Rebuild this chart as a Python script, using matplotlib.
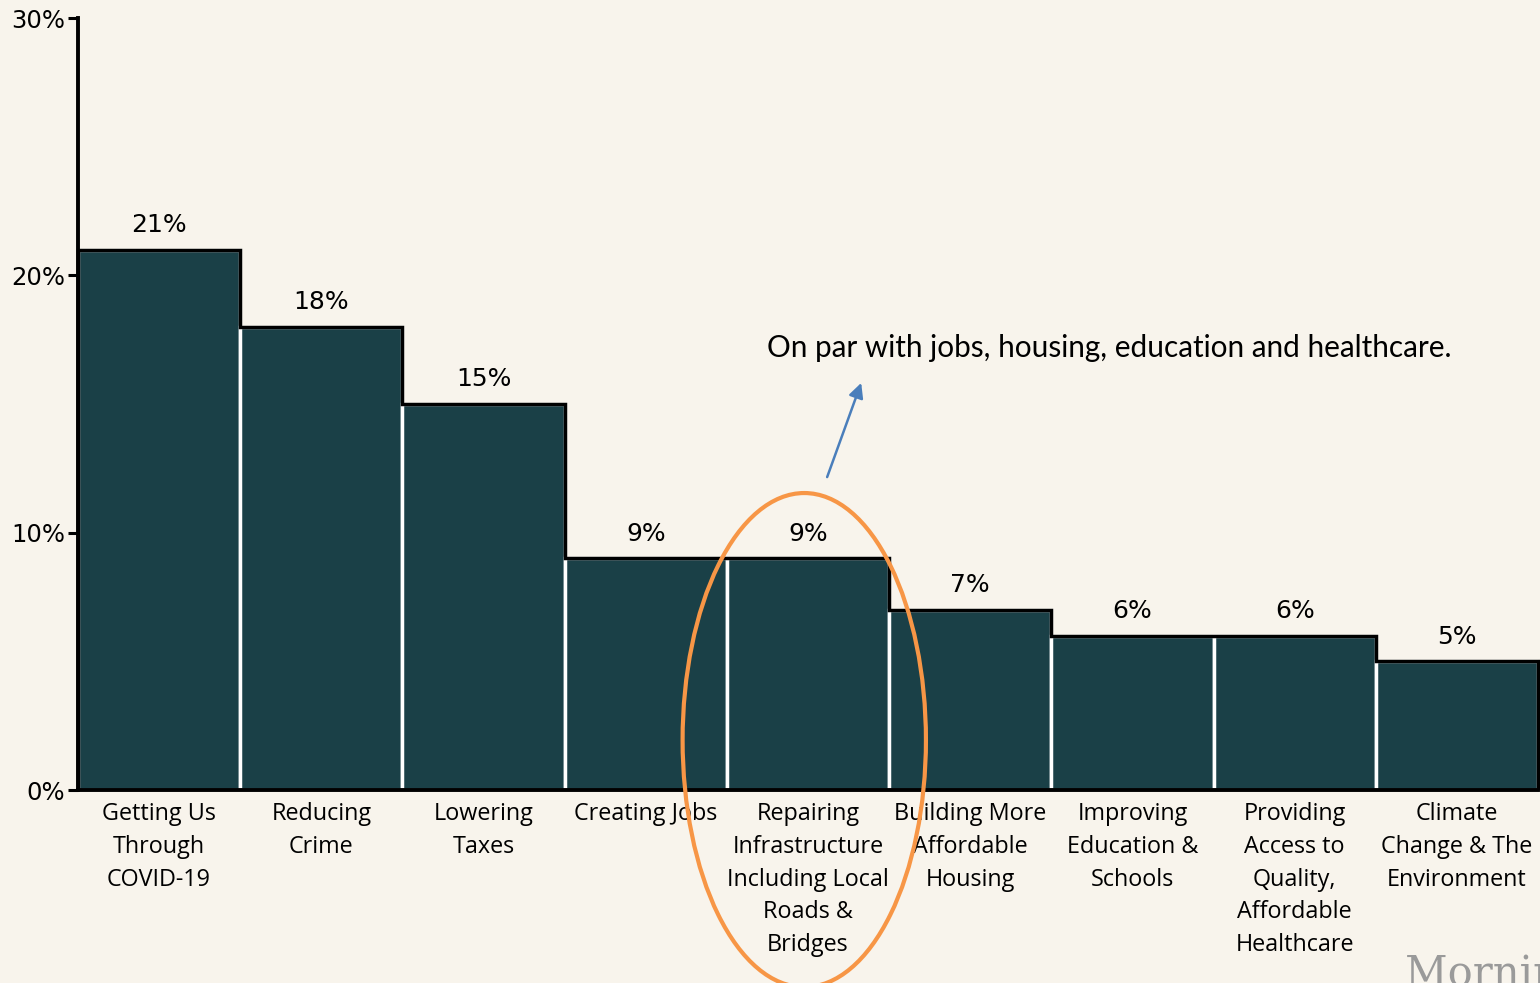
import matplotlib
matplotlib.use("Agg")
import matplotlib.pyplot as plt
from matplotlib.patches import Ellipse
import numpy as np

categories = [
    "Getting Us\nThrough\nCOVID-19",
    "Reducing\nCrime",
    "Lowering\nTaxes",
    "Creating Jobs",
    "Repairing\nInfrastructure\nIncluding Local\nRoads &\nBridges",
    "Building More\nAffordable\nHousing",
    "Improving\nEducation &\nSchools",
    "Providing\nAccess to\nQuality,\nAffordable\nHealthcare",
    "Climate\nChange & The\nEnvironment",
]
values = [21, 18, 15, 9, 9, 7, 6, 6, 5]
yticks = [0, 10, 20, 30]
annotation = "On par with jobs, housing, education and healthcare."

BG = "#F8F4EC"
BAR = "#1A4047"

fig = plt.figure(figsize=(15.4, 9.83), dpi=100, facecolor=BG)
ax = fig.add_axes([78/1540, 1 - 790/983, (1538-78)/1540, (790-18)/983])
ax.set_facecolor(BG)

x = np.arange(len(values))
ax.bar(x, values, width=1.0, color=BAR, edgecolor="white", linewidth=2.5, zorder=2)
edges = np.arange(len(values) + 1) - 0.5
ax.stairs(values, edges, baseline=0, color="black", linewidth=2.5, zorder=3, clip_on=False)

for xi, v in zip(x, values):
    ax.annotate(f"{v}%", (xi, v), xytext=(0, 9), textcoords="offset points",
                ha="center", va="bottom", fontsize=18, color="black")

ax.set_xlim(-0.5, len(values) - 0.5)
ax.set_ylim(0, 30)
ax.set_yticks(yticks)
ax.set_yticklabels([f"{t}%" for t in yticks], fontsize=17.5)
ax.set_xticks(x)
ax.set_xticklabels(categories, fontsize=16.8, family="Open Sans", linespacing=1.48)
ax.tick_params(axis="x", length=0, pad=9)
ax.tick_params(axis="y", length=7, width=2.2, pad=2)
for s in ["top", "right"]:
    ax.spines[s].set_visible(False)
for s in ["left", "bottom"]:
    ax.spines[s].set_linewidth(2.8)
    ax.spines[s].set_zorder(4)

ell = Ellipse((3.977, 1.94), 1.50, 19.2, fill=False, edgecolor="#F79646",
              linewidth=3, zorder=5, clip_on=False)
ax.add_patch(ell)

ax.annotate("", xy=(4.328, 15.82), xytext=(4.118, 12.16),
            arrowprops=dict(arrowstyle="-|>", color="#4A7EBB", lw=1.8,
                            mutation_scale=22, shrinkA=0, shrinkB=0), zorder=5)
ax.text(3.749, 17.18, annotation, fontsize=21.4, family="Lato",
        ha="left", va="center", color="black", zorder=5)

fig.text(1405/1540, -0.012, "Morning Consult", family="DejaVu Serif",
         color="#9a9a9a", fontsize=30, ha="left", va="bottom")

fig.savefig("out.png", dpi=100, facecolor=BG)
